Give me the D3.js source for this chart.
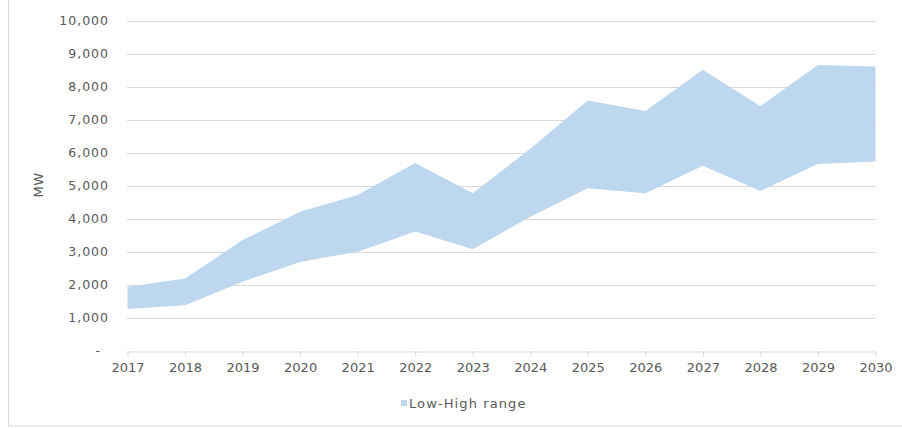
<!DOCTYPE html>
<html>
<head>
<meta charset="utf-8">
<script src="https://cdn.jsdelivr.net/npm/d3@7"></script>
<style>
  body { margin: 0; background: #fff; }
  text { font-family: "DejaVu Sans", sans-serif; fill: #595959; }
</style>
</head>
<body>
<div id="my_dataviz"></div>
<script>
var width = 902
var height = 428

var years = [2017, 2018, 2019, 2020, 2021, 2022, 2023, 2024, 2025, 2026, 2027, 2028, 2029, 2030]
var low  = [1270, 1390, 2100, 2700, 3010, 3620, 3080, 4070, 4930, 4780, 5610, 4850, 5670, 5740]
var high = [1950, 2200, 3360, 4220, 4730, 5700, 4780, 6130, 7590, 7270, 8520, 7420, 8670, 8620]
var yTicks = [0, 1000, 2000, 3000, 4000, 5000, 6000, 7000, 8000, 9000, 10000]
var seriesName = "Low-High range"

var data = years.map(function(y, i) { return { year: y, low: low[i], high: high[i] } })

var svg = d3.select("#my_dataviz")
  .append("svg")
    .attr("width", width)
    .attr("height", height)

// chart frame (only left and bottom edges visible)
svg.append("rect")
  .attr("x", 8.5)
  .attr("y", -5)
  .attr("width", 1000)
  .attr("height", 431)
  .attr("fill", "none")
  .attr("stroke", "#d9d9d9")

var x = d3.scaleLinear()
  .domain([2017, 2030])
  .range([127.5, 875.5])

var y = d3.scaleLinear()
  .domain([0, 10000])
  .range([351, 21])

// gridlines
svg.append("g")
  .selectAll("line")
  .data(yTicks.slice(1))
  .enter()
  .append("line")
    .attr("x1", 127)
    .attr("x2", 876)
    .attr("y1", function(d) { return Math.round(y(d)) + 0.5 })
    .attr("y2", function(d) { return Math.round(y(d)) + 0.5 })
    .attr("stroke", "#d9d9d9")

// band
var area = d3.area()
  .x(function(d) { return x(d.year) })
  .y0(function(d) { return y(d.low) })
  .y1(function(d) { return y(d.high) })

svg.append("path")
  .datum(data)
  .attr("d", area)
  .attr("fill", "#bdd7ee")

// y labels
svg.append("g")
  .selectAll("text")
  .data(yTicks)
  .enter()
  .append("text")
    .attr("x", function(d) { return d === 0 ? 101 : 109 })
    .attr("y", function(d) { return y(d) })
    .attr("dy", "0.35em")
    .attr("text-anchor", "end")
    .style("font-size", "12.5px")
    .style("letter-spacing", "1px")
    .text(function(d) { return d === 0 ? "-" : d3.format(",")(d) })

// x axis
var xAxis = d3.axisBottom(x)
  .tickValues(years)
  .tickFormat(d3.format("d"))
  .tickSize(5)
  .tickPadding(6)

var gx = svg.append("g")
  .attr("transform", "translate(0,351.5)")
  .call(xAxis)
gx.select(".domain").attr("stroke", "#d9d9d9").attr("d", "M127,0.5H876")
gx.selectAll(".tick line").attr("stroke", "#d9d9d9")
gx.selectAll(".tick text")
  .style("font-size", "13px")
  .style("font-family", "DejaVu Sans, sans-serif")
  .attr("fill", "#595959")

// y title
svg.append("text")
  .attr("transform", "translate(43,185) rotate(-90)")
  .attr("text-anchor", "middle")
  .style("font-size", "13px")
  .style("letter-spacing", "0.5px")
  .text("MW")

// legend
svg.append("rect")
  .attr("x", 401)
  .attr("y", 400)
  .attr("width", 6)
  .attr("height", 6)
  .attr("fill", "#bdd7ee")

svg.append("text")
  .attr("x", 409)
  .attr("y", 408)
  .style("font-size", "13px")
  .style("letter-spacing", "1.1px")
  .text(seriesName)
</script>
</body>
</html>
